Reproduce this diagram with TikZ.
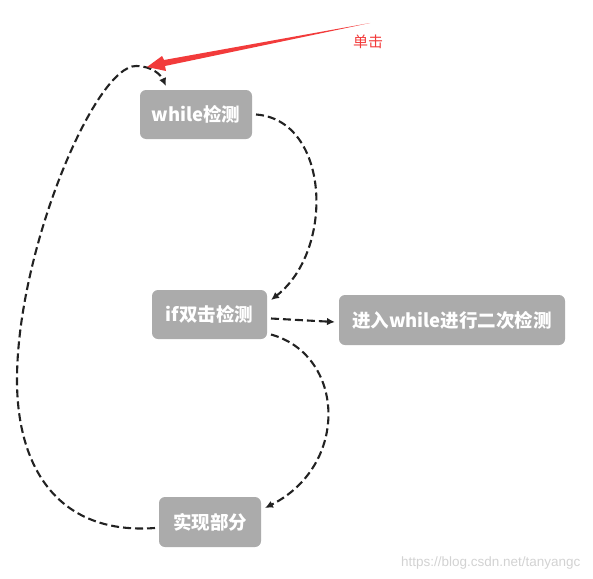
\documentclass[tikz,border=0pt]{standalone}
\usepackage{fontspec}
\newfontfamily\cjk{Noto Sans CJK SC}
\newfontfamily\wmfont{Liberation Sans}
\usetikzlibrary{arrows.meta}
\definecolor{boxgray}{HTML}{ABABAB}
\definecolor{linedark}{HTML}{222222}
\definecolor{clickred}{HTML}{F23B3B}
\definecolor{markgray}{HTML}{D2D2D2}

\begin{document}
\begin{tikzpicture}[x = 1pt, y = -1pt,
  stepbox/.style = {fill = boxgray, rounded corners = 6pt, text = white, inner sep = 0pt, outer sep = 4pt,
    font = \cjk\bfseries\fontsize{18.5}{20}\selectfont, minimum height = 49pt},
  flow/.style = {linedark, line width = 2.1pt, dash pattern = on 8pt off 4pt, -{Latex[length = 8pt, width = 7.5pt]}}]
\useasboundingbox (0, 0) rectangle (593, 578);
\node[stepbox, minimum width = 112pt] (wh) at (196, 114.5){while检测};
\node[stepbox, minimum width = 115pt] (dbl) at (209.5, 314.5){if双击检测};
\node[stepbox, minimum width = 226pt, minimum height = 50pt] (sec) at (452, 320){进入while进行二次检测};
\node[stepbox, minimum width = 102pt, minimum height = 50pt] (impl) at (210, 522){实现部分};
\draw[flow] (wh.east) .. controls (330, 120) and (335, 250) .. ([yshift = -14pt]dbl.north east);
\draw[flow] ([yshift = -4pt]dbl.east) -- ([yshift = -2pt]sec.west);
\draw[flow] ([yshift = -20pt]dbl.east) .. controls (345, 355) and (350, 465) .. ([yshift = -15pt]impl.north east);
\draw[flow] ([yshift = -6pt]impl.west) .. controls (60, 535) and (17, 470) .. (17, 380)
  .. controls (17, 250) and (95, 66) .. (136, 66)
  .. controls (152, 66) and (161, 75) .. ([xshift = -30pt]wh.north);
% click arrow
\fill[clickred] (370, 23) -- (164, 60) -- (162, 56) -- (147, 67) -- (166, 71) -- (165, 66) -- cycle;
\node[clickred, font = \cjk\fontsize{15}{17}\selectfont] (click) at (368, 42){单击};
\node[markgray, anchor = east, font = \wmfont\fontsize{13.5}{15}\selectfont] (mark) at (584, 563){https://blog.csdn.net/tanyangc};
\end{tikzpicture}
\end{document}
